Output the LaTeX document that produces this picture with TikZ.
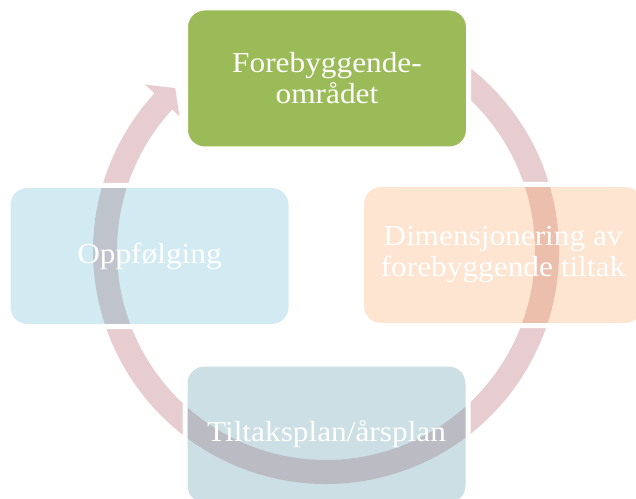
\documentclass[tikz,border=0pt]{standalone}
\usepackage{fontspec}
\setmainfont[FakeStretch=1.08]{Liberation Serif}
\definecolor{ringpink}{RGB}{231,205,207}
\definecolor{stepgreen}{RGB}{155,187,89}
\definecolor{steporange}{RGB}{247,150,70}
\definecolor{stepaqua}{RGB}{75,172,198}
\definecolor{stepteal}{RGB}{85,148,168}
\begin{document}
\begin{tikzpicture}[x=1pt,y=1pt,
  cyclebox/.style={rounded corners=19pt, minimum width=283pt, minimum height=141pt,
    draw=white, line width=5pt, text=white, align=center, inner sep=0pt,
    font=\fontsize{29}{31}\selectfont},
  softbox/.style={cyclebox, fill opacity=#1, draw opacity=1, text opacity=1},
  softbox/.default=0.25]
\useasboundingbox (0,0) rectangle (636,498);

% circular arrow running clockwise behind the boxes
\begin{scope}[shift={(326,247)}]
  \fill[ringpink] (60:233pt) arc[start angle=60, end angle=-222.6, radius=233pt]
    -- (137.4:246pt) -- (132.8:222pt) -- (137.4:199pt) -- (137.4:209pt)
    arc[start angle=-222.6, end angle=60, radius=209pt] -- cycle;
\end{scope}

% the four stages
\node[cyclebox, fill=stepgreen] (top) at (327,419.5) {Forebyggende-\\området};
\node[softbox, fill=steporange] (right) at (503,243) {Dimensjonering av\\forebyggende tiltak};
\node[softbox, fill=stepaqua] (left) at (149.5,242) {Oppfølging};
\node[softbox=0.3, fill=stepteal] (bottom) at (326.5,63.5) {Tiltaksplan/årsplan};
\end{tikzpicture}
\end{document}
